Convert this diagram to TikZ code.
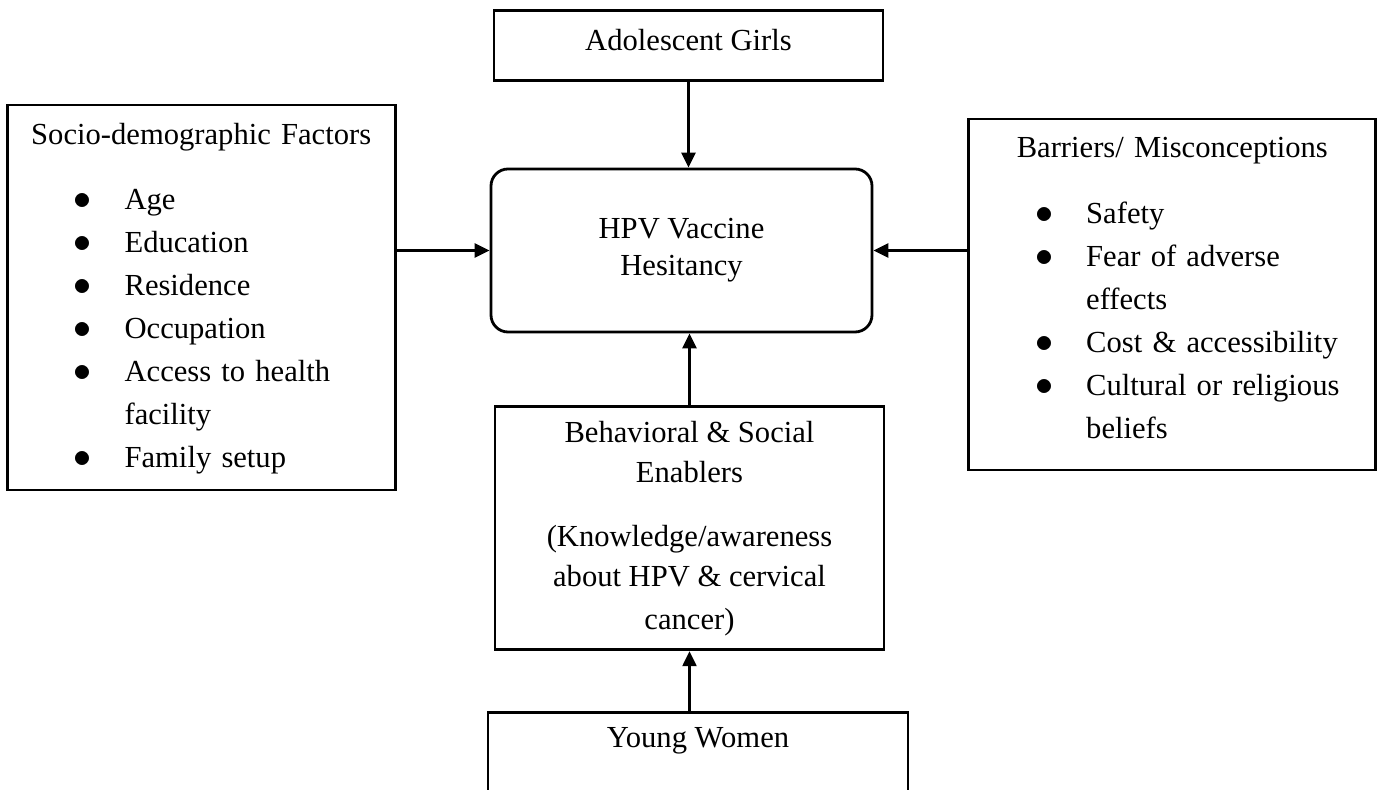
\documentclass[tikz,border=0pt]{standalone}
\usepackage{fontspec}
\setmainfont{Liberation Serif}
\usepackage{tikz}
\usetikzlibrary{arrows.meta, positioning}

% bullet list placed inside a box
\newcommand{\bulletlist}[1]{\hspace*{33.4pt}\begin{tabular}[t]{@{}p{25.3pt}@{}l@{}}#1\end{tabular}}
\newcommand{\bdot}{\scalebox{1.25}{$\bullet$}}

\begin{document}
\begin{tikzpicture}[node distance=40pt,
    font=\fontsize{15.3}{21.5}\selectfont,
    >={Triangle[length=7.5pt,width=7pt]}]
    \tikzstyle{factor}=[shape=rectangle,draw,line width=1.4pt,inner xsep=0pt,inner ysep=0pt]
    \tikzstyle{outcome}=[factor,rounded corners=8.5pt,align=center]

    \path[use as bounding box,fill=white] (-340.75pt,-269.75pt) rectangle (348.75pt,125.25pt);

    \node[outcome, minimum width=190.5pt, minimum height=81.5pt] (HPV)
        {HPV Vaccine\\[-3pt]Hesitancy};
    \node[factor, minimum width=194.5pt, minimum height=35pt, text depth=5pt,
        above=43pt of HPV, xshift=3.5pt] (Adol) {Adolescent Girls};
    \node[factor, minimum width=194pt, minimum height=192.5pt, text width=194pt,
        align=left, left=46.5pt of HPV, yshift=-23.5pt] (Socio)
        {\makebox[\linewidth]{\rule{0pt}{15.4pt}Socio-demographic Factors}\\[11pt]
         \bulletlist{\bdot & Age\\
                     \bdot & Education\\
                     \bdot & Residence\\
                     \bdot & Occupation\\
                     \bdot & Access to health\\
                           & facility\\
                     \bdot & Family setup}};
    \node[factor, minimum width=203.5pt, minimum height=175.5pt, text width=203.5pt,
        align=left, right=47pt of HPV, yshift=-22pt] (Barr)
        {\makebox[\linewidth]{Barriers/ Misconceptions}\\[11.5pt]
         \bulletlist{\bdot & Safety\\
                     \bdot & Fear of adverse\\
                           & effects\\
                     \bdot & Cost \& accessibility\\
                     \bdot & Cultural or religious\\
                           & beliefs}};
    \node[factor, minimum width=194.5pt, minimum height=121.5pt, align=center,
        below=36pt of HPV, xshift=4pt] (Behav)
        {Behavioral \& Social\\[-1.5pt]Enablers\\[10.5pt]
         (Knowledge/awareness\\[-1.5pt]about HPV \& cervical\\cancer)};
    \node[factor, minimum width=210pt, text height=11pt, text depth=50pt, inner ysep=6.5pt,
        below=30pt of Behav, xshift=4.25pt] (Young) {Young Women};

    \path[->,line width=1.2pt]
    (Adol.south) edge node {} (Adol.south |- HPV.north)
    (HPV.west -| Socio.east) edge node {} (HPV.west)
    (HPV.east -| Barr.west) edge node {} (HPV.east)
    (Behav.north) edge node {} (Behav.north |- HPV.south)
    (Young.north -| Behav.north) edge node {} (Behav.south)
    ;
\end{tikzpicture}
\end{document}
